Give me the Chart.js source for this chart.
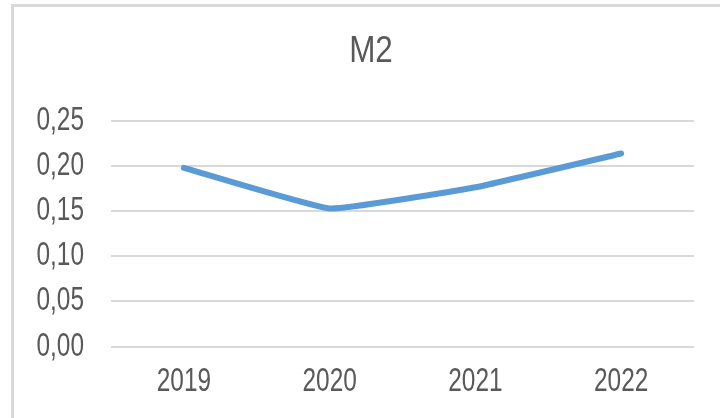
<!DOCTYPE html>
<html>
<head>
<meta charset="utf-8">
<script src="https://cdn.jsdelivr.net/npm/chart.js@4/dist/chart.umd.min.js"></script>
<style>
  html, body { margin: 0; padding: 0; background: #ffffff; overflow: hidden; }
  #frame { position: absolute; left: 11px; top: 4px; width: 800px; height: 500px;
           border-top: 3px solid #d9d9d9; border-left: 3px solid #d9d9d9; box-sizing: border-box; }
  #wrap { position: absolute; left: 0; top: 0; width: 720px; height: 418px; }
</style>
</head>
<body>
<div id="frame"></div>
<div id="wrap"><canvas id="c" width="720" height="418"></canvas></div>
<script>
const chartTitle = 'M2';
const categories = ['2019', '2020', '2021', '2022'];
const seriesM2 = [0.198, 0.153, 0.1765, 0.214];
const yTickValues = [0, 0.05, 0.10, 0.15, 0.20, 0.25];
const yTickLabels = ['0,00', '0,05', '0,10', '0,15', '0,20', '0,25'];

const FONT = '"Liberation Sans", Arial, sans-serif';
const TEXT = '#595959';
const TITLE_SIZE = 37;
const TICK_SIZE = 33;

// Emulate the narrow (condensed) typeface of the original by squeezing text horizontally.
const canvas = document.getElementById('c');
const ctx2d = canvas.getContext('2d');
const origFillText = ctx2d.fillText.bind(ctx2d);
ctx2d.fillText = function (text, x, y, maxWidth) {
  const f = ctx2d.font || '';
  const sx = f.indexOf(TITLE_SIZE + 'px') >= 0 ? 0.85 : (f.indexOf(TICK_SIZE + 'px') >= 0 ? 0.74 : 1);
  if (sx === 1) return origFillText(text, x, y, maxWidth);
  ctx2d.save();
  ctx2d.translate(x, y);
  ctx2d.scale(sx, 1);
  origFillText(text, 0, 0);
  ctx2d.restore();
};

// Centre the title over the framed chart (frame starts at ~48px in the original's coordinate space).
const titleShift = {
  id: 'titleShift',
  afterLayout(chart) {
    if (chart.titleBlock) chart.titleBlock.left = 48;
  }
};

new Chart(canvas, {
  type: 'line',
  data: {
    labels: categories,
    datasets: [{
      label: chartTitle,
      data: seriesM2,
      borderColor: '#5B9BD5',
      borderWidth: 6,
      borderCapStyle: 'round',
      borderJoinStyle: 'round',
      pointRadius: 0,
      pointHoverRadius: 0,
      tension: 0.1,
      fill: false
    }]
  },
  plugins: [titleShift],
  options: {
    responsive: false,
    animation: false,
    devicePixelRatio: 1,
    layout: { padding: { left: 0, right: 26, top: 0, bottom: 0 } },
    plugins: {
      legend: { display: false },
      tooltip: { enabled: false },
      title: {
        display: true,
        text: chartTitle,
        color: TEXT,
        font: { family: FONT, size: TITLE_SIZE, weight: 'normal', lineHeight: 1.2 },
        padding: { top: 30, bottom: 46.6 }
      }
    },
    scales: {
      x: {
        offset: true,
        grid: { display: false, drawTicks: false },
        border: { display: false },
        ticks: { color: TEXT, font: { family: FONT, size: TICK_SIZE }, padding: 16, maxRotation: 0 },
        afterFit: (s) => { s.height = 71.5; }
      },
      y: {
        min: 0,
        max: 0.25,
        afterBuildTicks: (s) => { s.ticks = yTickValues.map(v => ({ value: v })); },
        grid: { color: '#d9d9d9', lineWidth: 2, drawTicks: false },
        border: { display: false },
        ticks: {
          color: TEXT,
          font: { family: FONT, size: TICK_SIZE },
          padding: 27,
          callback: (v, i) => yTickLabels[i]
        },
        afterFit: (s) => { s.width = 111; }
      }
    }
  }
});
</script>
</body>
</html>
